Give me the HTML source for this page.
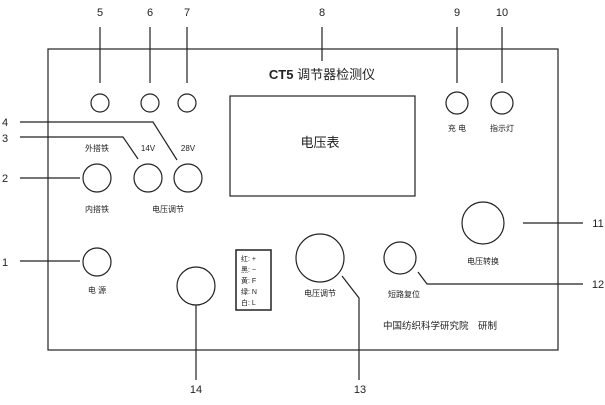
<!DOCTYPE html>
<html><head><meta charset="utf-8"><style>
body{margin:0;background:#fff}
svg text{font-family:"Liberation Sans","Noto Sans CJK SC",sans-serif;fill:#222}
</style></head><body>
<svg width="605" height="400" viewBox="0 0 605 400" xmlns="http://www.w3.org/2000/svg">
<g fill="none" stroke="#222" stroke-width="1.2">
<rect x="48" y="49" width="510" height="301"/>
<rect x="230" y="96" width="185" height="100"/>
<circle cx="100" cy="103" r="9"/><circle cx="150" cy="103" r="9"/><circle cx="187" cy="103" r="9"/>
<circle cx="457" cy="103" r="11"/><circle cx="502" cy="103" r="11"/>
<circle cx="97" cy="178" r="14"/><circle cx="148" cy="178" r="14"/><circle cx="188" cy="178" r="14"/>
<circle cx="97" cy="262" r="14"/>
<circle cx="196" cy="286" r="19"/>
<circle cx="320" cy="258" r="24"/>
<circle cx="400" cy="258" r="16"/>
<circle cx="483" cy="223" r="21"/>
<rect x="236" y="250" width="35" height="60" stroke-width="1.5"/>
<line x1="100" y1="27" x2="100" y2="83"/><line x1="150" y1="27" x2="150" y2="83"/><line x1="187" y1="27" x2="187" y2="83"/>
<line x1="322" y1="27" x2="322" y2="61"/>
<line x1="457" y1="27" x2="457" y2="83"/><line x1="502" y1="27" x2="502" y2="83"/>
<polyline points="20,122 153,122 177,160"/>
<polyline points="20,137 123,137 138,159"/>
<line x1="20" y1="178" x2="80" y2="178"/>
<line x1="20" y1="261" x2="80" y2="261"/>
<line x1="196" y1="305" x2="196" y2="380"/>
<polyline points="342,276 359,298 359,380"/>
<polyline points="418,272 427,284 583,284"/>
<line x1="523" y1="223" x2="583" y2="223"/>
</g>
<g font-size="11" text-anchor="middle">
<text x="100" y="16">5</text><text x="150" y="16">6</text><text x="187" y="16">7</text>
<text x="322" y="16">8</text><text x="457" y="16">9</text><text x="502" y="16">10</text>
<text x="5" y="126">4</text><text x="5" y="142">3</text><text x="5" y="182">2</text><text x="5" y="266">1</text>
<text x="598" y="227">11</text><text x="598" y="288">12</text>
<text x="360" y="393">13</text><text x="196" y="393">14</text>
</g>
<text x="322" y="79" font-size="13" text-anchor="middle"><tspan font-weight="bold">CT5</tspan> 调节器检测仪</text>
<text x="320" y="147" font-size="13" text-anchor="middle">电压表</text>
<g font-size="8" text-anchor="middle">
<text x="457" y="131">充 电</text><text x="502" y="131">指示灯</text>
<text x="97" y="151">外搭铁</text><text x="148" y="151">14V</text><text x="188" y="151">28V</text>
<text x="97" y="212">内搭铁</text><text x="168" y="212">电压调节</text>
<text x="97" y="293">电 源</text>
<text x="320" y="296">电压调节</text><text x="404" y="297">短路复位</text><text x="483" y="264">电压转换</text>
</g>
<g font-size="7">
<text x="241" y="261">红: +</text><text x="241" y="272">黑: −</text><text x="241" y="283">黄: F</text><text x="241" y="294">绿: N</text><text x="241" y="305">白: L</text>
</g>
<text x="440" y="329" font-size="9.5" text-anchor="middle">中国纺织科学研究院　研制</text>
</svg>
</body></html>
